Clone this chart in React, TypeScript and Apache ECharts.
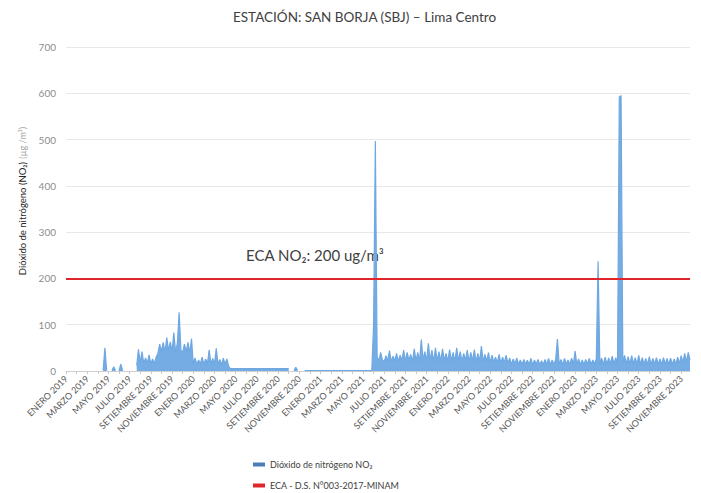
import React, { useEffect, useRef } from "react";
import * as echarts from "echarts";

const TITLE = "ESTACIÓN: SAN BORJA (SBJ) – Lima Centro";
const SERIES_NO2 = "Dióxido de nitrógeno NO₂";
const SERIES_ECA = "ECA - D.S. N°003-2017-MINAM";
const ECA_LIMIT = 200;
const ECA_TEXT = "ECA NO₂: 200 ug/m³";

// one tick label every 2 months
const tickLabels = [
  "ENERO 2019", "MARZO 2019", "MAYO 2019", "JULIO 2019", "SETIEMBRE 2019", "NOVIEMBRE 2019",
  "ENERO 2020", "MARZO 2020", "MAYO 2020", "JULIO 2020", "SETIEMBRE 2020", "NOVIEMBRE 2020",
  "ENERO 2021", "MARZO 2021", "MAYO 2021", "JULIO 2021", "SETIEMBRE 2021", "NOVIEMBRE 2021",
  "ENERO 2022", "MARZO 2022", "MAYO 2022", "JULIO 2022", "SETIEMBRE 2022", "NOVIEMBRE 2022",
  "ENERO 2023", "MARZO 2023", "MAYO 2023", "JULIO 2023", "SETIEMBRE 2023", "NOVIEMBRE 2023",
];

// 6 readings per month (about every 5 days), µg/m³
const no2_2019 = [
  null, null, null, null, null, null, null, null, null, null, null, null, // ene-feb
  null, null, null, null, null, null, null, null, null, 1, 50, 1,          // mar-abr
  null, null, 1, 9, 1, null, 1, 15, 1, null, null, null,                   // may-jun
  null, null, null, null, 12, 47, 18, 42, 16, 28, 17, 35,                  // jul-ago
  15, 26, 16, 30, 38, 58, 42, 62, 40, 72, 44, 63,                          // set-oct
  42, 83, 40, 60, 127, 45, 40, 58, 42, 62, 38, 70,                         // nov-dic
];
const no2_2020 = [
  15, 28, 14, 24, 15, 30, 14, 26, 15, 46, 14, 27,
  15, 49, 14, 25, 13, 28, 14, 26, 10, 5, 5, 5,
  5, 5, 5, 5, 5, 5, 5, 5, 5, 5, 5, 5,
  5, 5, 5, 5, 5, 5, 5, 5, 5, 5, 5, 5,
  5, 5, 5, 5, 5, 5, 5, null, null, 1, 8, 1,
  null, null, null, 1, 1, 1, 1, 1, 1, 1, 1, 1,
];
const no2_2021 = [
  1, 1, 1, 1, 1, 1, 1, 1, 1, 1, 1, 1,
  1, 1, 1, 1, 1, 1, 1, 1, 1, 1, 1, 1,
  1, 1, 1, 1, 1, 1, 98, 497, 30, 22, 40, 24,
  20, 33, 22, 44, 20, 32, 22, 38, 20, 34, 22, 45,
  21, 40, 23, 36, 20, 48, 22, 40, 21, 68, 23, 42,
  21, 60, 23, 45, 20, 50, 22, 42, 21, 48, 23, 38,
];
const no2_2022 = [
  21, 46, 22, 40, 20, 50, 22, 42, 21, 38, 23, 45,
  20, 40, 22, 46, 20, 38, 21, 54, 20, 36, 21, 40,
  18, 34, 19, 30, 18, 36, 17, 30, 18, 34, 16, 28,
  14, 26, 15, 28, 14, 24, 14, 25, 15, 23, 14, 27,
  13, 24, 14, 25, 13, 22, 14, 25, 14, 27, 13, 24,
  14, 25, 69, 14, 25, 13, 27, 15, 24, 14, 28, 14,
];
const no2_2023 = [
  43, 14, 26, 13, 24, 14, 25, 15, 27, 14, 24, 15,
  26, 237, 15, 28, 14, 30, 15, 28, 16, 32, 15, 29,
  16, 592, 595, 17, 34, 15, 31, 15, 33, 16, 29, 15,
  34, 14, 29, 15, 27, 14, 31, 14, 27, 15, 29, 14,
  26, 14, 29, 15, 27, 14, 28, 14, 26, 15, 30, 16,
  33, 18, 38, 20, 40, 24,
];

const STEPS_PER_MONTH = 6;
const STEPS_PER_LABEL = STEPS_PER_MONTH * 2;

const no2Values = [...no2_2019, ...no2_2020, ...no2_2021, ...no2_2022, ...no2_2023];
const categories = no2Values.map((_, i) => `p${i}`);

const FONT = "Lato, 'Open Sans', sans-serif";
const BLUE = "#6ea8e2";
const RED = "#e0262a";

export default function App() {
  const ref = useRef<HTMLDivElement>(null);

  useEffect(() => {
    document.body.style.margin = "0";
    if (!ref.current) return;
    const chart = echarts.init(ref.current, null, { renderer: "svg" });
    chart.setOption({
      animation: false,
      textStyle: { fontFamily: FONT },
      title: {
        text: TITLE,
        left: 228,
        top: 5,
        textStyle: { fontFamily: FONT, fontSize: 13.5, fontWeight: "normal", color: "#404040" },
      },
      grid: { left: 66, right: 11, top: 47, bottom: 122, containLabel: false },
      xAxis: {
        type: "category",
        data: categories,
        boundaryGap: false,
        axisLine: { lineStyle: { color: "#d0d0d0" } },
        axisTick: {
          show: true,
          interval: (i: number) => i % STEPS_PER_MONTH === 0,
          length: 3,
          lineStyle: { color: "#c8c8c8" },
        },
        axisLabel: {
          interval: (i: number) => i % STEPS_PER_LABEL === 0,
          formatter: (_v: string, i: number) => tickLabels[Math.floor(i / STEPS_PER_LABEL)] ?? "",
          rotate: 45,
          fontSize: 9,
          color: "#595959",
          margin: 6,
          fontFamily: FONT,
        },
        splitLine: { show: false },
      },
      yAxis: {
        type: "value",
        min: 0,
        max: 700,
        interval: 100,
        axisLabel: { color: "#8c8c8c", fontSize: 10, margin: 10, fontFamily: FONT },
        splitLine: { lineStyle: { color: "#e8e8e8" } },
        axisLine: { show: false },
        axisTick: { show: false },
      },
      legend: {
        orient: "vertical",
        left: 253,
        top: 459,
        padding: 0,
        itemGap: 10,
        itemWidth: 12,
        itemHeight: 4,
        icon: "rect",
        textStyle: { fontSize: 9, lineHeight: 11, color: "#404040", fontFamily: FONT },
        data: [
          { name: SERIES_NO2, itemStyle: { color: "#4a7ebb" } },
          { name: SERIES_ECA, itemStyle: { color: RED } },
        ],
      },
      series: [
        {
          name: SERIES_ECA,
          type: "line",
          data: [],
          itemStyle: { color: RED },
          lineStyle: { color: RED },
          z: 1,
          markLine: {
            symbol: "none",
            silent: true,
            label: { show: false },
            lineStyle: { color: RED, width: 2, type: "solid" },
            data: [{ yAxis: ECA_LIMIT }],
          },
        },
        {
          name: SERIES_NO2,
          type: "line",
          data: no2Values,
          showSymbol: false,
          symbol: "none",
          connectNulls: false,
          lineStyle: { width: 1.2, color: BLUE },
          itemStyle: { color: BLUE },
          areaStyle: { color: BLUE, opacity: 0.95 },
          z: 2,
        },
      ],
      graphic: [
        {
          type: "text",
          left: 246,
          top: 247,
          style: { text: ECA_TEXT, fontSize: 15, fill: "#404040", fontFamily: FONT },
        },
        {
          type: "text",
          x: 22,
          y: 201,
          rotation: Math.PI / 2,
          style: {
            text: "{a|Dióxido de nitrógeno (NO₂)} {b|(µg /m³)}",
            align: "center",
            verticalAlign: "middle",
            rich: {
              a: { fontSize: 9.5, fill: "#262626", fontFamily: FONT },
              b: { fontSize: 9, fill: "#a6a6a6", fontFamily: FONT },
            },
          },
        },
      ],
    });
    return () => chart.dispose();
  }, []);

  return <div ref={ref} style={{ width: 701, height: 493 }} />;
}
